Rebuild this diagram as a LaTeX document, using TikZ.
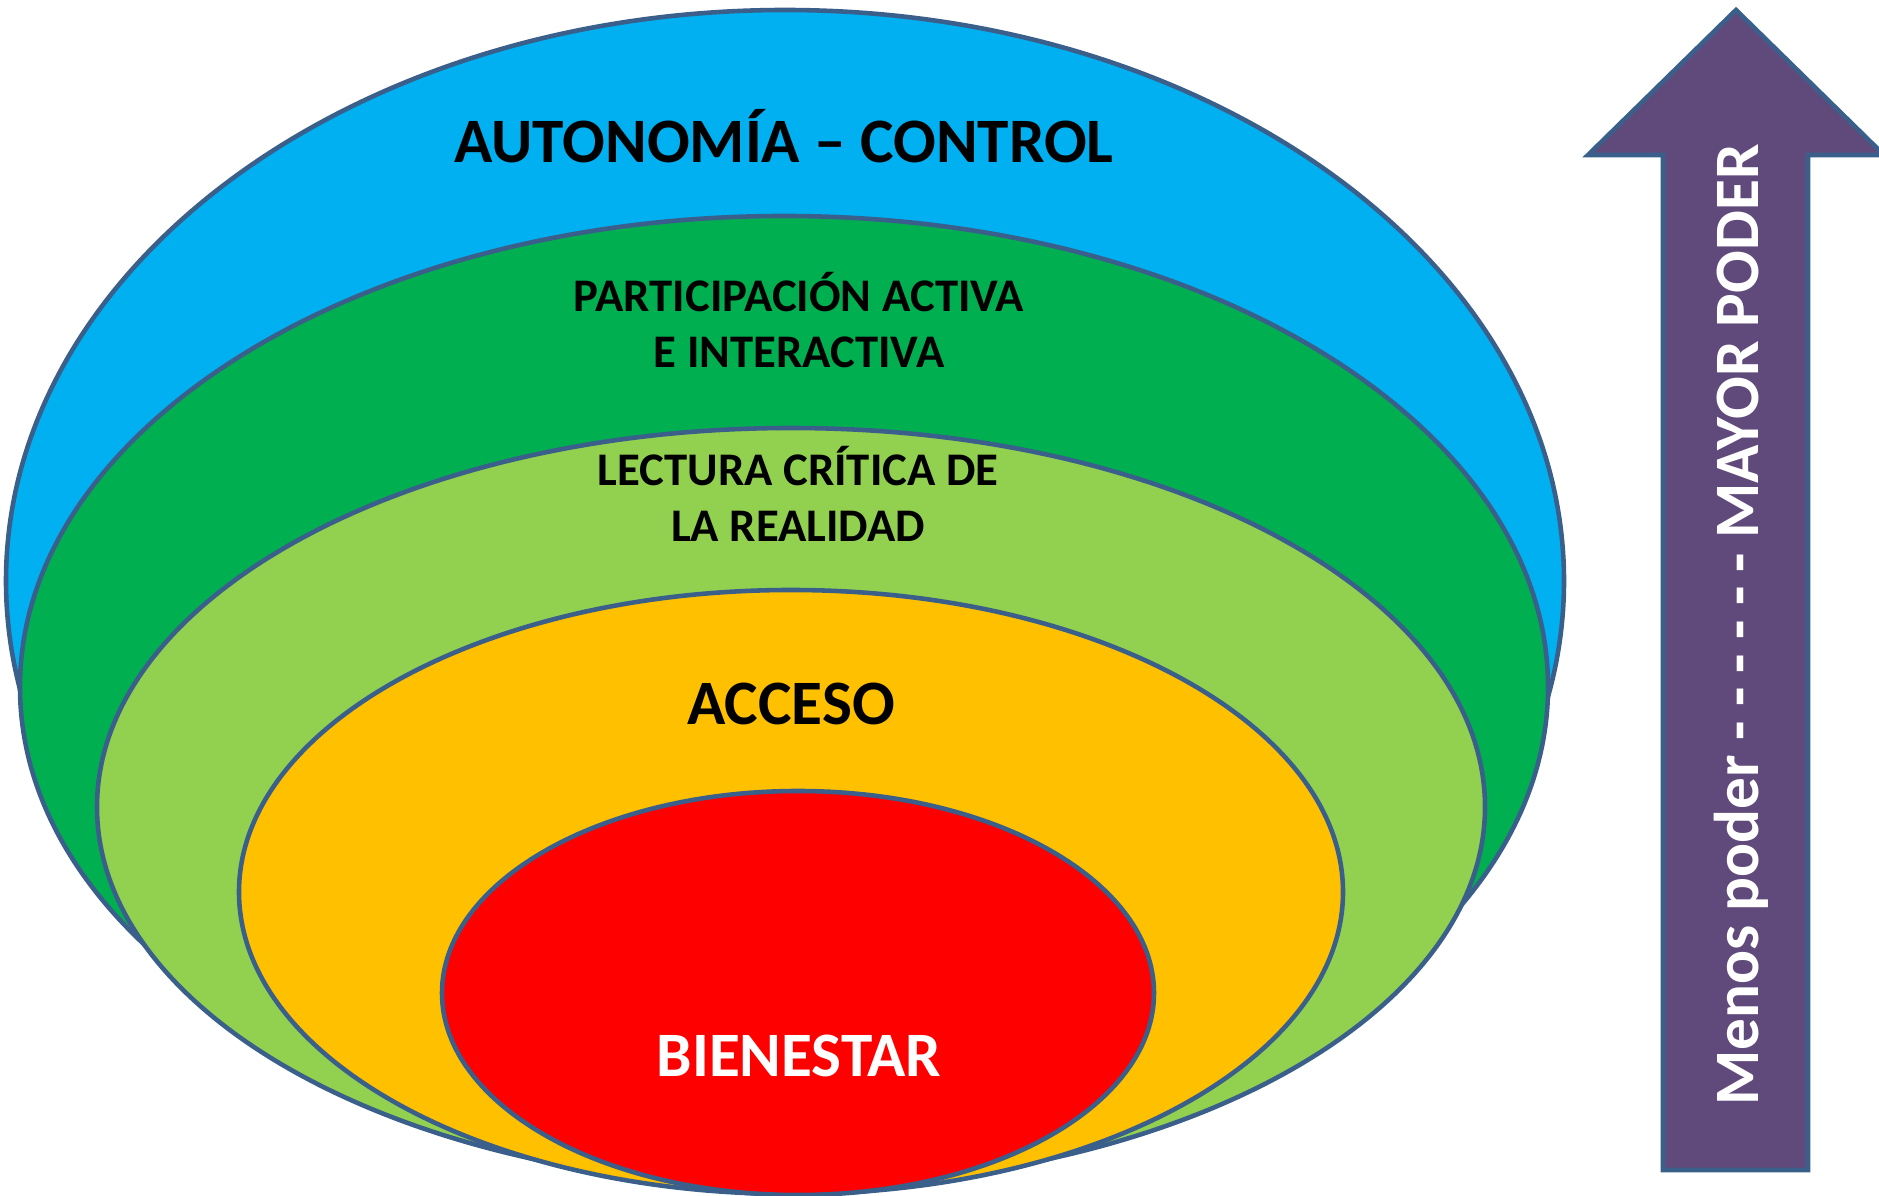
\documentclass[tikz,border=0pt]{standalone}
\usepackage{fontspec}
\setmainfont{Carlito}
\usepackage{tikz}
\usetikzlibrary{backgrounds}
\definecolor{rimblue}{HTML}{3A5F8B}
\definecolor{skyblue}{HTML}{00B0F0}
\definecolor{darkgreen}{HTML}{00B050}
\definecolor{lightgreen}{HTML}{92D050}
\definecolor{gold}{HTML}{FFC000}
\definecolor{poderpurple}{HTML}{604A7B}
\newcommand{\rimcolor}{rimblue}
\newcommand{\rimwidth}{1.3pt}

\begin{document}
\begin{tikzpicture}[
  ringtext/.style={font=\bfseries\fontsize{18}{22}\selectfont, anchor=base},
  ringsmall/.style={font=\bfseries\fontsize{13.3}{16.2}\selectfont, align=center, anchor=base}]
\useasboundingbox (0,0) rectangle (18.79,-11.96);
%autonomia
\filldraw[fill=skyblue, draw=\rimcolor, line width=\rimwidth] (7.85,-5.81) ellipse (7.79 and 5.71);
%participacion
\filldraw[fill=darkgreen, draw=\rimcolor, line width=\rimwidth] (7.84,-6.87) ellipse (7.64 and 4.71);
%lectura
\filldraw[fill=lightgreen, draw=\rimcolor, line width=\rimwidth] (7.91,-8.07) ellipse (6.94 and 3.79);
%acceso
\filldraw[fill=gold, draw=\rimcolor, line width=\rimwidth] (7.91,-8.92) ellipse (5.52 and 3.02);
%bienestar
\filldraw[fill=red, draw=\rimcolor, line width=\rimwidth] (7.98,-9.93) ellipse (3.56 and 2.02);
\node[ringtext] (autonomia) at (7.84,-1.63) {AUTONOMÍA – CONTROL};
\node[ringsmall] (participacion) at (7.99,-3.68) {PARTICIPACIÓN ACTIVA\\E INTERACTIVA};
\node[ringsmall] (lectura) at (7.98,-5.42) {LECTURA CRÍTICA DE\\LA REALIDAD};
\node[ringtext] (acceso) at (7.91,-7.25) {ACCESO};
\node[ringtext, white] (bienestar) at (7.99,-10.76) {BIENESTAR};
%poder
\filldraw[fill=poderpurple, draw=\rimcolor, line width=\rimwidth] (16.63,-11.70) -- (16.63,-1.55) -- (15.88,-1.55) -- (17.36,-0.10) -- (18.84,-1.55) -- (18.08,-1.55) -- (18.08,-11.70) -- cycle;
\node[ringtext, white, rotate=90] (poder) at (17.58,-6.25) {Menos poder - - - - - - MAYOR PODER};
\end{tikzpicture}
\end{document}
